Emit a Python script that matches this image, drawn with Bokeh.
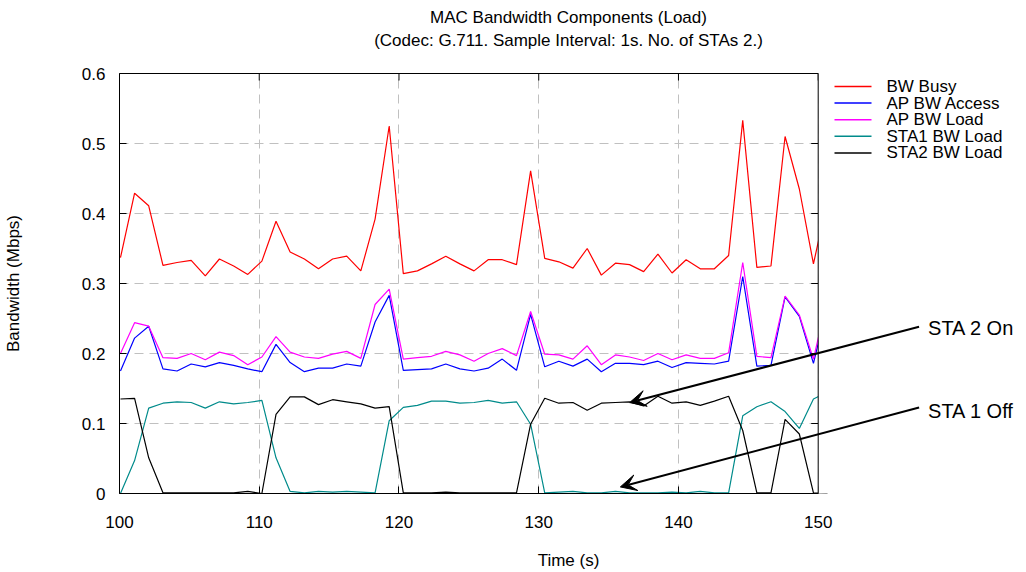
from bokeh.plotting import figure
from bokeh.models import (Range1d, LinearAxis, FixedTicker, Arrow, VeeHead, Label,
                          ColumnDataSource, BoxAnnotation, Span, GlobalInlineStyleSheet)
from bokeh.embed import file_html
from bokeh.resources import INLINE

# ---------------- data ----------------
time_s = [100.07, 101.08, 102.09, 103.11, 104.12, 105.13, 106.14, 107.15, 108.17, 109.18,
          110.19, 111.20, 112.21, 113.23, 114.24, 115.25, 116.26, 117.27, 118.29, 119.30,
          120.31, 121.32, 122.33, 123.35, 124.36, 125.37, 126.38, 127.39, 128.41, 129.42,
          130.43, 131.44, 132.45, 133.47, 134.48, 135.49, 136.50, 137.51, 138.53, 139.54,
          140.55, 141.56, 142.57, 143.59, 144.60, 145.61, 146.62, 147.63, 148.65, 149.66,
          150.67]

bw_busy = [0.337, 0.429, 0.411, 0.326, 0.330, 0.333, 0.311, 0.335, 0.325, 0.313,
           0.332, 0.389, 0.345, 0.335, 0.321, 0.335, 0.339, 0.318, 0.392, 0.525,
           0.314, 0.318, 0.328, 0.339, 0.328, 0.318, 0.334, 0.334, 0.327, 0.461,
           0.336, 0.331, 0.322, 0.350, 0.312, 0.329, 0.327, 0.317, 0.342, 0.315,
           0.334, 0.321, 0.321, 0.340, 0.533, 0.323, 0.325, 0.510, 0.435, 0.328,
           0.420]

ap_bw_access = [0.175, 0.222, 0.239, 0.178, 0.175, 0.185, 0.181, 0.187, 0.183, 0.178,
                0.174, 0.213, 0.187, 0.174, 0.179, 0.179, 0.185, 0.182, 0.245, 0.283,
                0.176, 0.177, 0.178, 0.185, 0.178, 0.175, 0.179, 0.192, 0.176, 0.256,
                0.181, 0.189, 0.182, 0.192, 0.174, 0.186, 0.186, 0.184, 0.189, 0.180,
                0.187, 0.186, 0.185, 0.189, 0.310, 0.182, 0.183, 0.281, 0.253, 0.186,
                0.270]

ap_bw_load = [0.200, 0.244, 0.239, 0.194, 0.193, 0.200, 0.191, 0.202, 0.197, 0.184,
              0.195, 0.224, 0.202, 0.195, 0.193, 0.199, 0.203, 0.193, 0.270, 0.292,
              0.192, 0.194, 0.196, 0.203, 0.198, 0.189, 0.200, 0.207, 0.197, 0.260,
              0.199, 0.198, 0.192, 0.211, 0.184, 0.198, 0.195, 0.190, 0.200, 0.191,
              0.198, 0.193, 0.193, 0.201, 0.330, 0.196, 0.194, 0.282, 0.255, 0.192,
              0.280]

sta1_bw_load = [0.000, 0.047, 0.122, 0.129, 0.131, 0.130, 0.122, 0.131, 0.128, 0.130,
                0.133, 0.051, 0.003, 0.001, 0.003, 0.002, 0.003, 0.002, 0.001, 0.104,
                0.123, 0.126, 0.132, 0.132, 0.129, 0.130, 0.133, 0.129, 0.131, 0.099,
                0.001, 0.002, 0.003, 0.001, 0.001, 0.003, 0.001, 0.001, 0.001, 0.002,
                0.001, 0.003, 0.001, 0.001, 0.111, 0.124, 0.131, 0.117, 0.093, 0.135,
                0.145]

sta2_bw_load = [0.135, 0.136, 0.051, 0.001, 0.001, 0.001, 0.001, 0.001, 0.001, 0.003,
                0.000, 0.113, 0.138, 0.138, 0.127, 0.134, 0.131, 0.128, 0.122, 0.124,
                0.001, 0.001, 0.001, 0.002, 0.001, 0.001, 0.001, 0.001, 0.001, 0.099,
                0.136, 0.129, 0.130, 0.119, 0.129, 0.130, 0.131, 0.125, 0.139, 0.129,
                0.131, 0.126, 0.132, 0.139, 0.090, 0.001, 0.001, 0.106, 0.085, 0.001,
                0.000]

series_names = ["BW Busy", "AP BW Access", "AP BW Load", "STA1 BW Load", "STA2 BW Load"]
series_colors = ["#ff0000", "#0000ff", "#ff00ff", "#008b8b", "#000000"]

x_ticks = [100, 110, 120, 130, 140, 150]
y_ticks = [0, 0.1, 0.2, 0.3, 0.4, 0.5, 0.6]
y_tick_labels = ["0", "0.1", "0.2", "0.3", "0.4", "0.5", "0.6"]

title_line1 = "MAC Bandwidth Components (Load)"
title_line2 = "(Codec: G.711. Sample Interval: 1s. No. of STAs 2.)"
x_label = "Time (s)"
y_label = "Bandwidth (Mbps)"

annotations = [
    # text, text position, arrow start, arrow end (data units)
    ("STA 2 On", (157.86, 0.2362), (157.22, 0.2383), (136.51, 0.1299)),
    ("STA 1 Off", (157.86, 0.1183), (157.22, 0.1229), (135.84, 0.0094)),
]

FONT = "Liberation Sans"
X0, X1 = x_ticks[0], x_ticks[-1]
Y0, Y1 = y_ticks[0], y_ticks[-1]
FRAME_W, FRAME_H = 898, 420
BOX_W = 698.7                          # width of the plot box in px
PX_PER_S = BOX_W / (X1 - X0)
PX_PER_Y = FRAME_H / (Y1 - Y0)
X_END = X0 + FRAME_W / PX_PER_S        # frame extends right to hold legend + notes
TICK = 7

# legend placement, in px from the plot box's top-right corner
LEG_DX0, LEG_DX1, LEG_TEXT_DX = 16.3, 53.3, 68.3
LEG_ROW0, LEG_PITCH = 13.0, 16.6

# ---------------- figure ----------------
p = figure(frame_width=FRAME_W, frame_height=FRAME_H, output_backend="svg",
           toolbar_location=None,
           x_range=Range1d(X0, X_END), y_range=Range1d(Y0, Y1),
           min_border_left=112, min_border_right=0, min_border_top=73,
           min_border_bottom=60)
p.stylesheets = [GlobalInlineStyleSheet(css="html, body { overflow: hidden; }")]
p.title.visible = False
p.outline_line_color = None
p.background_fill_color = "white"
p.border_fill_color = "white"

src = ColumnDataSource(dict(t=time_s, busy=bw_busy, acc=ap_bw_access, load=ap_bw_load,
                            s1=sta1_bw_load, s2=sta2_bw_load))
renderers = []
for col, color in zip(["busy", "acc", "load", "s1", "s2"], series_colors):
    r = p.line("t", col, source=src, line_color=color, line_width=1.2)
    renderers.append(r)

# axes
xt = FixedTicker(ticks=x_ticks)
yt = FixedTicker(ticks=y_ticks)
overrides = {v: s for v, s in zip(y_ticks, y_tick_labels)}

xax = p.xaxis[0]
yax = p.yaxis[0]
xax.ticker = xt
xax.bounds = (X0, X1)
xax.axis_label = x_label
xax.major_label_standoff = 22
xax.axis_label_standoff = 20
yax.ticker = yt
yax.bounds = (Y0, Y1)
yax.major_label_overrides = overrides
yax.axis_label = y_label
yax.axis_label_standoff = 56
yax.major_label_standoff = 14

for ax in [xax, yax]:
    ax.axis_line_color = "black"
    ax.axis_line_width = 1
    ax.major_tick_in = TICK
    ax.major_tick_out = 0
    ax.major_tick_line_color = "black"
    ax.minor_tick_line_color = None
    ax.major_label_text_font = FONT
    ax.major_label_text_font_size = "17px"
    ax.major_label_text_color = "black"
    ax.axis_label_text_font = FONT
    ax.axis_label_text_font_style = "normal"
    ax.axis_label_text_font_size = "17px"
    ax.axis_label_text_color = "black"

# top edge of the box; its axis label carries the subtitle, a second tick-less
# axis above it carries the main title (both centred over the plot box)
def title_axis(text, standoff, line_color):
    ax = LinearAxis(ticker=FixedTicker(ticks=[]), bounds=(X0, X1))
    ax.axis_label = text
    ax.axis_label_standoff = standoff
    ax.axis_label_text_font = FONT
    ax.axis_label_text_font_size = "17px"
    ax.axis_label_text_font_style = "normal"
    ax.axis_label_text_color = "black"
    ax.axis_line_color = line_color
    ax.major_tick_out = 0
    ax.major_tick_in = 0
    ax.minor_tick_out = 0
    ax.minor_tick_in = 0
    ax.major_tick_line_color = None
    ax.minor_tick_line_color = None
    ax.major_label_standoff = 0
    return ax

p.add_layout(title_axis(title_line2, 24, "black"), "above")
p.add_layout(title_axis(title_line1, 1, None), "above")

p.xgrid.ticker = xt
p.ygrid.ticker = yt
for g in [p.xgrid[0], p.ygrid[0]]:
    g.grid_line_color = "#c0c0c0"
    g.grid_line_dash = "9 6"
    g.grid_line_width = 1

# mirrored inward ticks on top and right sides of the plot box
p.segment(x0=x_ticks, x1=x_ticks, y0=[Y1] * len(x_ticks),
          y1=[Y1 - TICK / PX_PER_Y] * len(x_ticks), line_color="black", line_width=1)
p.segment(x0=[X1 - TICK / PX_PER_S] * len(y_ticks), x1=[X1] * len(y_ticks),
          y0=y_ticks, y1=y_ticks, line_color="black", line_width=1)

# blank everything to the right of the plot box, then draw its right edge
p.add_layout(BoxAnnotation(left=X1, fill_color="white", fill_alpha=1.0, line_color=None))
p.add_layout(Span(location=X1, dimension="height", line_color="black", line_width=1))

# legend (drawn on top of the blanking box, to the right of the plot box)
leg_y = [Y1 - (LEG_ROW0 + i * LEG_PITCH) / PX_PER_Y for i in range(len(series_names))]
p.segment(x0=[X1 + LEG_DX0 / PX_PER_S] * len(series_names),
          x1=[X1 + LEG_DX1 / PX_PER_S] * len(series_names),
          y0=leg_y, y1=leg_y, line_color=series_colors, line_width=1.5, level="overlay")
for name, yy in zip(series_names, leg_y):
    p.add_layout(Label(x=X1 + LEG_TEXT_DX / PX_PER_S, y=yy, text=name, text_font=FONT,
                       text_font_size="17px", text_baseline="middle", text_align="left",
                       text_color="black"))

# annotations
for text, (tx, ty), (xs, ys), (xe, ye) in annotations:
    p.add_layout(Arrow(end=VeeHead(size=16, fill_color="black", line_color="black"),
                       x_start=xs, y_start=ys, x_end=xe, y_end=ye,
                       line_color="black", line_width=2))
    p.add_layout(Label(x=tx, y=ty, text=text, text_font=FONT, text_font_size="20px",
                       text_baseline="middle", text_align="left", text_color="black"))

open("out.html", "w").write(file_html(p, INLINE))
